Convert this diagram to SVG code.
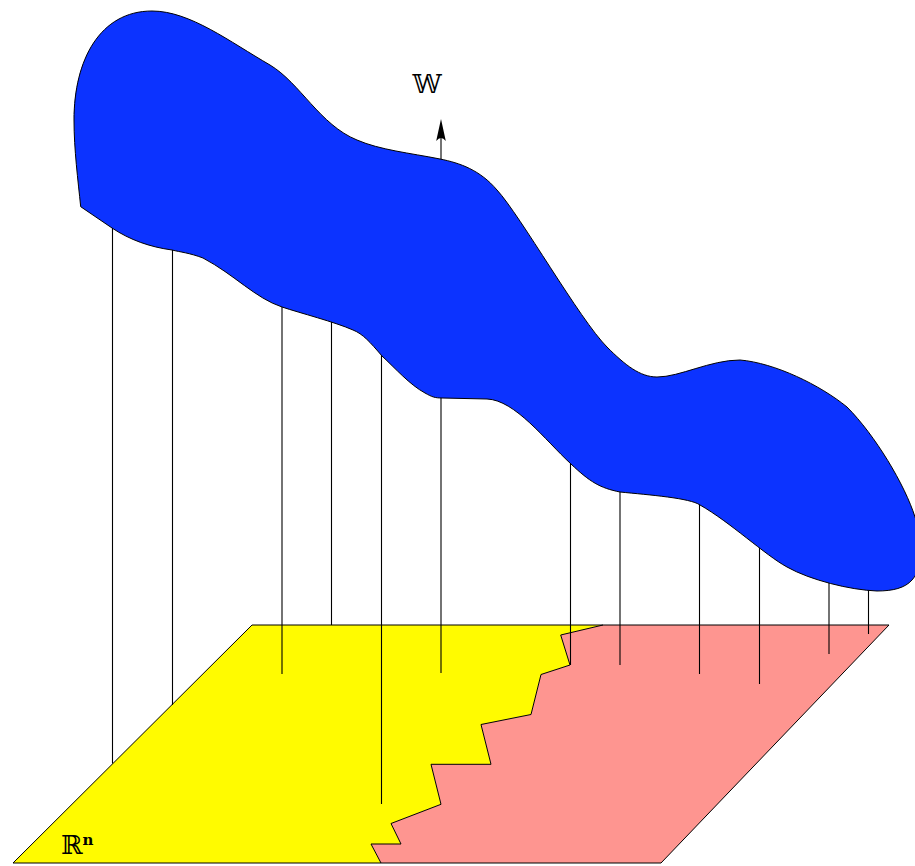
<svg xmlns="http://www.w3.org/2000/svg" width="915" height="866" viewBox="0 0 915 866">
<style>
.edge{fill:none;stroke:#000;stroke-width:1}
.stem{stroke:#000;stroke-width:1.1;fill:none}
.lbl{font-family:"DejaVu Serif","DejaVu Sans","Liberation Serif",serif;fill:#000}
</style>
<rect width="915" height="866" fill="#fff"/>
<g id="plane">
  <polygon id="region-yellow" points="252,625 603,625 560.7,635 570,665 541,674.5 531,714.5 481,724.5 491,764.3 431,764.3 441,804.3 391,823.5 401,844 371,844 381,863 13,863" fill="#fffb00"/>
  <polygon id="region-pink" points="603,625 889,625 661,863 381,863 371,844 401,844 391,823.5 441,804.3 431,764.3 491,764.3 481,724.5 531,714.5 541,674.5 570,665 560.7,635" fill="#fe9590"/>
  <polyline class="edge" points="603,625 560.7,635 570,665 541,674.5 531,714.5 481,724.5 491,764.3 431,764.3 441,804.3 391,823.5 401,844 371,844 381,863"/>
  <polygon class="edge" points="252,625 889,625 661,863 13,863" stroke="#333"/>
</g>
<g id="connectors">
  <line class="stem" x1="112.5" y1="220" x2="112.5" y2="763.5"/>
  <line class="stem" x1="172.5" y1="240" x2="172.5" y2="705"/>
  <line class="stem" x1="282" y1="300" x2="282" y2="674"/>
  <line class="stem" x1="331.5" y1="315" x2="331.5" y2="625"/>
  <line class="stem" x1="381.5" y1="350" x2="381.5" y2="804"/>
  <line class="stem" x1="570.5" y1="455" x2="570.5" y2="665"/>
  <line class="stem" x1="620" y1="485" x2="620" y2="665"/>
  <line class="stem" x1="699.5" y1="498" x2="699.5" y2="674"/>
  <line class="stem" x1="759.5" y1="540" x2="759.5" y2="684"/>
  <line class="stem" x1="829" y1="575" x2="829" y2="654"/>
  <line class="stem" x1="868.5" y1="582" x2="868.5" y2="634"/>
  <g id="arrow-w">
    <line class="stem" x1="441" y1="673" x2="441" y2="134"/>
    <path d="M441,119 L445.8,141 Q441,135 436.2,141 Z" fill="#000"/>
  </g>
</g>
<g id="manifold-w">
  <path d="M80.7,206.7 C78,180 74,150 74,120 C74,60 100,11 152,11 C190,11 230,42 270,65 C300,83 320,125 357,140 C380,150 410,153 440,159 C460,163 480,170 497,190 C520,215 580,320 607,347 C625,365 640,377 657,377 C680,377 710,360 740,360 C775,363 820,385 847,407 C875,435 905,485 915,517 C925,545 925,565 912,580 C905,588 893,591 877,591 C850,590 810,580 787,567 C765,555 730,522 700,505 C690,498 650,495 620,492 C600,488 590,482 571,464 C545,440 515,400 487,399 L442,398 C435,398 432,397 425,393 C410,385 395,368 382,356 C370,342 363,334 353,330 C335,322 300,313 282,307 C255,298 235,275 203,258 C190,253 180,252 172,250 C150,247 130,240 112,228 Z" fill="#0c33ff" stroke="#000" stroke-width="1"/>
</g>
<g id="label-w">
  <text class="lbl" x="427" y="93" font-size="26" text-anchor="middle">𝕎</text>
</g>
<g id="label-rn">
  <text class="lbl" x="61" y="854" font-size="26">ℝ<tspan font-size="15" font-weight="bold" dy="-9">n</tspan></text>
</g>
</svg>
